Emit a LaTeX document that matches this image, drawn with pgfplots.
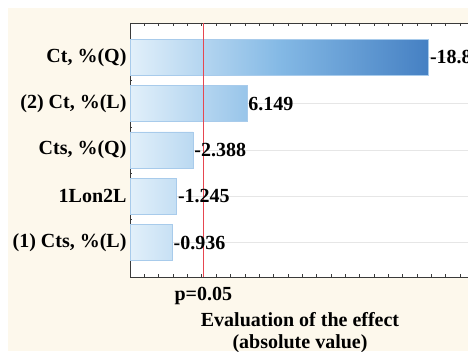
\documentclass[border=0pt]{standalone}
\usepackage{fontspec}
\setmainfont{Liberation Serif}
\usepackage{pgfplots}
\pgfplotsset{compat=1.18}
\definecolor{bgbeige}{HTML}{FDF8EC}
\definecolor{barL}{HTML}{E2F0FA}
\definecolor{barM}{HTML}{84B9E5}
\definecolor{barR}{HTML}{4580C3}
\definecolor{barE}{HTML}{A8CBEB}
\definecolor{pline}{RGB}{230,70,80}
\definecolor{gridgray}{HTML}{E6E6E6}
\definecolor{axisgray}{HTML}{3A3A3A}
\newcommand\labfont{\fontsize{20}{23}\selectfont\bfseries}
\begin{document}
\begin{tikzpicture}[x=1pt,y=1pt]
\path[use as bounding box] (0,0) rectangle (468,351);
\clip (0,0) rectangle (468,351);
\fill[white] (0,0) rectangle (468,351);
\fill[bgbeige] (8,0) rectangle (468,343);
\begin{axis}[
  name=ax,
  at={(130pt,74pt)}, anchor=south west,
  scale only axis, width=340pt, height=254pt,
  x coord trafo/.code={\pgfmathparse{#1+2}},
  x coord inv trafo/.code={\pgfmathparse{#1-2}},
  xmin=-2, xmax=21.69,
  ymin=-0.74, ymax=4.74,
  axis background/.style={fill=white},
  axis line style={draw=axisgray, line width=0.9pt},
  xtick={-2,-1,...,21},
  xticklabels={},
  ytick={0,1,2,3,4},
  yticklabels={{(1) Cts, \%(L)},{1Lon2L},{Cts, \%(Q)},{(2) Ct, \%(L)},{Ct, \%(Q)}},
  ytick pos=left,
  minor y tick num=3,
  major tick length=3pt, minor tick length=2pt,
  tick style={axisgray, line width=0.6pt},
  ymajorgrids, grid style={gridgray, line width=0.6pt},
  tick label style={font=\labfont, text=black},
  bar width=0.78,
  clip=false,
]
\addplot[xbar, draw=barE, line width=0.6pt, left color=barL, right color=barR, middle color=barM,
  nodes near coords, point meta=explicit symbolic,
  every node near coord/.append style={font=\labfont, text=black, anchor=west, inner sep=1.2pt}]
  coordinates {(0.936,0) [-0.936] (1.245,1) [-1.245] (2.388,2) [-2.388] (6.149,3) [6.149] (18.8,4) [-18.83]};
\addplot[draw=pline, line width=1.3pt, mark=none, sharp plot]
  coordinates {(3.11,-0.74) (3.11,4.74)};
\node[font=\labfont, anchor=base, yshift=-23pt] at (axis cs:3.11,-0.74) {p=0.05};
\end{axis}
\node[font=\labfont, anchor=base] at ([yshift=-49pt]ax.south) {Evaluation of the effect};
\node[font=\labfont, anchor=base] at ([yshift=-71pt]ax.south) {(absolute value)};
\end{tikzpicture}
\end{document}
